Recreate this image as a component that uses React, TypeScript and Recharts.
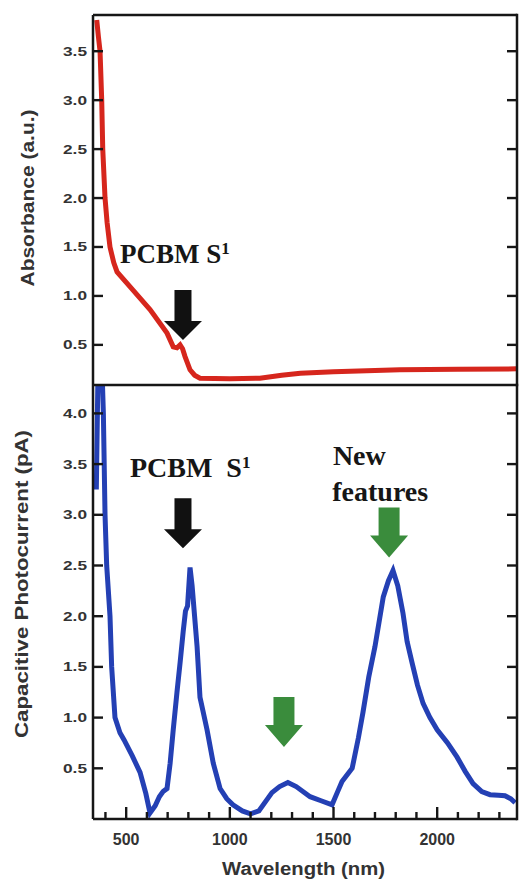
import React from 'react';
import { LineChart, Line, XAxis, YAxis, ReferenceDot, Label } from 'recharts';

// ---------- data ----------
const absWavelength = [358, 366, 374, 382, 387, 398, 408, 422, 440, 456, 533, 615, 697, 727, 745, 760, 772, 784, 808, 830, 856, 1000, 1145, 1250, 1340, 1500, 1820, 2100, 2385];
const absorbance = [3.82, 3.65, 3.5, 3.0, 2.5, 2.0, 1.75, 1.5, 1.34, 1.245, 1.06, 0.86, 0.62, 0.48, 0.47, 0.5, 0.46, 0.38, 0.245, 0.19, 0.16, 0.155, 0.16, 0.19, 0.21, 0.225, 0.245, 0.25, 0.255];

const pcWavelength = [356, 364, 384, 390, 398, 406, 422, 430, 446, 470, 490, 530, 567, 595, 615, 640, 660, 678, 697, 712, 727, 745, 760, 775, 786, 796, 808, 818, 830, 842, 856, 872, 890, 920, 953, 985, 1015, 1060, 1100, 1140, 1203, 1240, 1280, 1320, 1387, 1440, 1493, 1520, 1541, 1590, 1620, 1642, 1670, 1700, 1740, 1765, 1787, 1810, 1835, 1855, 1879, 1905, 1932, 1965, 2000, 2050, 2096, 2135, 2173, 2215, 2255, 2295, 2327, 2355, 2376];
const photocurrent = [3.25, 4.4, 4.4, 4.0, 3.0, 2.5, 2.0, 1.5, 1.0, 0.85, 0.78, 0.62, 0.46, 0.25, 0.06, 0.13, 0.22, 0.27, 0.3, 0.55, 0.88, 1.25, 1.54, 1.85, 2.05, 2.1, 2.48, 2.3, 2.0, 1.7, 1.2, 1.05, 0.88, 0.55, 0.3, 0.2, 0.14, 0.08, 0.05, 0.08, 0.26, 0.32, 0.36, 0.32, 0.22, 0.18, 0.14, 0.27, 0.37, 0.5, 0.8, 1.05, 1.4, 1.7, 2.19, 2.35, 2.45, 2.3, 2.03, 1.75, 1.54, 1.32, 1.14, 1.0, 0.88, 0.75, 0.61, 0.47, 0.35, 0.27, 0.24, 0.235, 0.23, 0.2, 0.16];

const wavelengthTicks = [400, 500, 600, 700, 800, 900, 1000, 1100, 1200, 1300, 1400, 1500, 1600, 1700, 1800, 1900, 2000, 2100, 2200, 2300];
const wavelengthLabels = [500, 1000, 1500, 2000];
const absTicks = [0.5, 1.0, 1.5, 2.0, 2.5, 3.0, 3.5];
const pcTicks = [0.5, 1.0, 1.5, 2.0, 2.5, 3.0, 3.5, 4.0];
const wavelengthDomain = [340, 2385];
const absDomain = [0.09, 3.87];
const pcDomain = [0, 4.28];

const absNotes = [{ wl: 470, value: 1.34, text: 'PCBM S', sup: '1' }];
const absArrows = [{ wl: 774, value: 0.55, kind: 'black' }];
const pcNotes = [
  { wl: 518, value: 3.37, text: 'PCBM  S', sup: '1' },
  { wl: 1497, value: 3.49, text: 'New', sup: '' },
  { wl: 1494, value: 3.14, text: 'features', sup: '' },
];
const pcArrows = [
  { wl: 774, value: 2.67, kind: 'black' },
  { wl: 1768, value: 2.58, kind: 'green' },
  { wl: 1261, value: 0.71, kind: 'green' },
];

// ---------- layout & styles ----------
const W = 520;
const MR = 3;
const PLOT_RIGHT = W - MR;
const AXIS = '#161616';
const TEXT = '#333';
const SANS = '"Liberation Sans", Arial, sans-serif';
const SERIF = '"Liberation Serif", "Times New Roman", serif';
const ARROWS: Record<string, any> = {
  black: { h: 50, head: 19, shaft: 17, headW: 38, color: '#111' },
  green: { h: 50, head: 22, shaft: 21, headW: 38, color: '#3a8c3c' },
};
const AXLINE = { stroke: AXIS, strokeWidth: 2.5 };
const TW = 2.4;

const absData = absWavelength.map((w, i) => ({ wl: w, v: absorbance[i] }));
const pcData = pcWavelength.map((w, i) => ({ wl: w, v: photocurrent[i] }));

// filled bar as polygon
const bar = (x0: number, y0: number, x1: number, y1: number) => (
  <polygon points={`${x0},${y0} ${x1},${y0} ${x1},${y1} ${x0},${y1}`} fill={AXIS} />
);

const LeftTick = (p: any) => {
  const x = Number(p.x);
  const y = Number(p.y);
  const ax = x + 6;
  return (
    <g>
      {bar(ax, y - TW / 2, ax + 10, y + TW / 2)}
      {bar(PLOT_RIGHT - 10, y - TW / 2, PLOT_RIGHT, y + TW / 2)}
      <text x={x} y={y + 4.5} textAnchor="end" fontFamily={SANS} fontWeight="bold" fontSize={13} fill={TEXT} textLength={24} lengthAdjust="spacingAndGlyphs">
        {Number(p.payload.value).toFixed(1)}
      </text>
    </g>
  );
};

const BottomTick = (p: any) => {
  const x = Number(p.x);
  const y = Number(p.y);
  const v = p.payload.value;
  const major = wavelengthLabels.includes(v);
  const len = major ? 12 : 7;
  return (
    <g>
      {bar(x - TW / 2, y - len, x + TW / 2, y)}
      {major && (
        <text x={x} y={y + 26} textAnchor="middle" fontFamily={SANS} fontWeight="bold" fontSize={16} fill={TEXT}>
          {v}
        </text>
      )}
    </g>
  );
};

const TopTick = (p: any) => {
  const x = Number(p.x);
  const y = Number(p.y);
  const len = wavelengthLabels.includes(p.payload.value) ? 13 : 8;
  return <g>{bar(x - TW / 2, y, x + TW / 2, y + len)}</g>;
};

const yTitle = (text: string, len: number, cx: number, shift: number) => (props: any) => {
  const vb = props.viewBox || {};
  const cy = vb.y + vb.height / 2 + shift;
  return (
    <g>
      {bar(PLOT_RIGHT - 1.25, vb.y - 1.25, PLOT_RIGHT + 1.25, vb.y + vb.height + 1.25)}
      <text x={cx} y={cy} transform={`rotate(-90 ${cx} ${cy})`} textAnchor="middle" fontFamily={SANS} fontWeight="bold" fontSize={18} fill={TEXT} textLength={len} lengthAdjust="spacingAndGlyphs">
        {text}
      </text>
    </g>
  );
};

const xTitle = (props: any) => {
  const vb = props.viewBox || {};
  const cx = vb.x + vb.width / 2 - 1.5;
  return (
    <text x={cx} y={vb.y + 56} textAnchor="middle" fontFamily={SANS} fontWeight="bold" fontSize={18} fill={TEXT} textLength={163} lengthAdjust="spacingAndGlyphs">
      Wavelength (nm)
    </text>
  );
};

const arrowShape = (kind: string) => (p: any) => {
  const { cx, cy } = p;
  const s = ARROWS[kind];
  const pts = [
    [cx - s.shaft / 2, cy - s.h],
    [cx + s.shaft / 2, cy - s.h],
    [cx + s.shaft / 2, cy - s.head],
    [cx + s.headW / 2, cy - s.head],
    [cx, cy],
    [cx - s.headW / 2, cy - s.head],
    [cx - s.shaft / 2, cy - s.head],
  ];
  return <polygon points={pts.map((q) => q.join(',')).join(' ')} fill={s.color} />;
};

const noteShape = (text: string, sup: string, size: number) => (p: any) => {
  const { cx, cy } = p;
  return (
    <text x={cx} y={cy} fontFamily={SERIF} fontWeight="bold" fontSize={size} fill="#161616" style={{ whiteSpace: 'pre' }}>
      {text}
      {sup && (
        <tspan dy={-9} fontSize={17}>
          {sup}
        </tspan>
      )}
    </text>
  );
};

export default function App() {
  return (
    <div style={{ position: 'absolute', left: 0, top: 0, width: W, height: 881, background: '#fff', overflow: 'hidden' }}>
      <div style={{ position: 'absolute', left: 0, top: 0 }}>
        <LineChart width={W} height={390} data={absData} margin={{ top: 14, right: MR, bottom: 5, left: 0 }}>
          <XAxis dataKey="wl" type="number" domain={wavelengthDomain} allowDataOverflow hide />
          <XAxis xAxisId="top" orientation="top" type="number" domain={wavelengthDomain} allowDataOverflow height={1} tick={false} tickLine={false} axisLine={AXLINE} />
          <YAxis dataKey="v" type="number" domain={absDomain} allowDataOverflow ticks={absTicks} interval={0} width={93} tickSize={0} tickMargin={6} tickLine={false} tick={LeftTick} axisLine={AXLINE}>
            <Label content={yTitle('Absorbance (a.u.)', 177, 34, -2)} />
          </YAxis>
          <Line dataKey="v" type="linear" stroke="#d6261d" strokeWidth={5} dot={false} isAnimationActive={false} />
          {absArrows.map((a, i) => (
            <ReferenceDot key={'a' + i} x={a.wl} y={a.value} r={0} ifOverflow="visible" shape={arrowShape(a.kind)} />
          ))}
          {absNotes.map((n, i) => (
            <ReferenceDot key={'n' + i} x={n.wl} y={n.value} r={0} ifOverflow="visible" shape={noteShape(n.text, n.sup, 27)} />
          ))}
        </LineChart>
      </div>
      <div style={{ position: 'absolute', left: 0, top: 375 }}>
        <LineChart width={W} height={506} data={pcData} margin={{ top: 9, right: MR, bottom: 0, left: 0 }}>
          <XAxis dataKey="wl" type="number" domain={wavelengthDomain} allowDataOverflow ticks={wavelengthTicks} interval={0} height={62} tickSize={0} tickMargin={0} tickLine={false} tick={BottomTick} axisLine={AXLINE}>
            <Label content={xTitle} />
          </XAxis>
          <XAxis xAxisId="top" orientation="top" type="number" domain={wavelengthDomain} allowDataOverflow ticks={wavelengthTicks} interval={0} height={1} tickSize={0} tickMargin={0} tickLine={false} tick={TopTick} axisLine={AXLINE} />
          <YAxis dataKey="v" type="number" domain={pcDomain} allowDataOverflow ticks={pcTicks} interval={0} width={93} tickSize={0} tickMargin={6} tickLine={false} tick={LeftTick} axisLine={AXLINE}>
            <Label content={yTitle('Capacitive Photocurrent (pA)', 308, 28, -18)} />
          </YAxis>
          <Line dataKey="v" type="linear" stroke="#2440b4" strokeWidth={5} dot={false} isAnimationActive={false} />
          {pcArrows.map((a, i) => (
            <ReferenceDot key={'a' + i} x={a.wl} y={a.value} r={0} ifOverflow="visible" shape={arrowShape(a.kind)} />
          ))}
          {pcNotes.map((n, i) => (
            <ReferenceDot key={'n' + i} x={n.wl} y={n.value} r={0} ifOverflow="visible" shape={noteShape(n.text, n.sup, 28)} />
          ))}
        </LineChart>
      </div>
    </div>
  );
}
